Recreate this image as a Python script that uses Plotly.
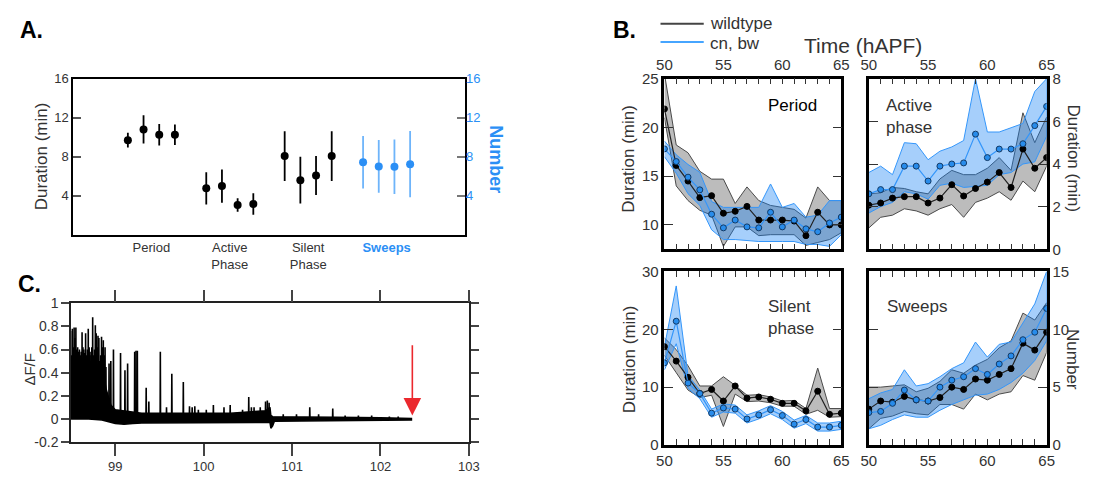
import plotly.graph_objects as go

# The page adds an 8px margin around the figure; lay out in window pixels.
OFF = 8
CW, CH = 1085, 471
def px(x): return (x - OFF) / CW
def py(y): return 1 - (y - OFF) / CH

FONT = "Liberation Sans, Arial, Helvetica, sans-serif"
BLUE = "rgb(43,143,245)"
TXT = "#333333"

# ---------------- Panel A data ----------------
a_groups = ["Period", "Active<br>Phase", "Silent<br>Phase", "Sweeps"]
period_mean = [9.7, 10.8, 10.25, 10.25]
period_err = [0.75, 1.45, 1.1, 1.05]
active_mean = [4.77, 5.0, 3.06, 3.16]
active_err = [1.65, 1.7, 0.7, 1.1]
silent_mean = [8.07, 5.6, 6.09, 8.07]
silent_err = [2.55, 2.4, 2.0, 2.55]
sweeps_mean = [7.44, 7.01, 6.98, 7.24]
sweeps_err = [2.7, 2.7, 2.8, 3.4]

# ---------------- Panel B data ----------------
hours = list(range(50, 66))

per_wt_mean = [21.9, 16.1, 14.5, 12.8, 13.0, 11.2, 11.4, 11.9, 10.5, 10.5, 10.5, 10.4, 8.9, 11.3, 10.0, 10.0]
per_wt_lo = [21.0, 14.0, 12.5, 11.5, 11.0, 7.8, 9.8, 9.8, 8.9, 9.0, 9.0, 9.0, 7.9, 8.2, 8.5, 9.2]
per_wt_hi = [25.5, 18.2, 17.4, 15.5, 14.7, 14.7, 12.2, 13.9, 12.5, 12.0, 11.8, 11.6, 10.7, 13.9, 12.5, 12.5]
per_cb_mean = [17.8, 16.5, 14.9, 13.6, 11.1, 9.7, 10.5, 9.8, 9.7, 11.3, 9.8, 10.5, 9.6, 9.3, 10.2, 10.8]
per_cb_lo = [17.0, 15.3, 13.2, 12.0, 9.5, 8.5, 8.5, 8.4, 8.3, 8.3, 8.3, 8.3, 8.0, 8.0, 7.8, 9.0]
per_cb_hi = [18.6, 17.2, 16.2, 15.4, 12.4, 11.8, 11.8, 11.8, 11.8, 14.2, 11.8, 12.2, 10.8, 11.0, 12.5, 12.5]

act_wt_mean = [2.07, 2.17, 2.4, 2.47, 2.47, 2.17, 2.4, 3.03, 2.5, 2.85, 3.15, 3.6, 2.9, 4.7, 3.8, 4.3]
act_wt_lo = [1.0, 1.5, 1.6, 1.9, 1.8, 1.6, 1.9, 2.1, 1.5, 2.2, 2.4, 2.7, 2.3, 3.2, 2.7, 3.9]
act_wt_hi = [2.6, 2.65, 2.9, 2.85, 2.7, 2.6, 3.3, 3.7, 3.5, 3.5, 3.8, 4.3, 3.7, 6.4, 5.0, 6.2]
act_cb_mean = [2.6, 2.8, 2.8, 3.9, 3.9, 3.2, 3.9, 4.0, 4.05, 5.4, 4.3, 4.7, 4.7, 4.95, 5.8, 6.7]
act_cb_lo = [1.7, 2.0, 2.2, 2.7, 2.6, 2.35, 3.0, 3.1, 2.9, 2.95, 3.0, 3.5, 3.6, 4.0, 4.1, 5.3]
act_cb_hi = [3.6, 3.9, 3.5, 5.0, 4.95, 4.2, 4.6, 4.8, 5.1, 8.0, 5.5, 5.5, 5.7, 5.9, 7.4, 8.0]

sil_wt_mean = [17.0, 14.5, 11.7, 8.9, 9.6, 7.6, 10.2, 8.1, 8.3, 7.9, 7.2, 7.2, 5.9, 9.3, 5.3, 5.5]
sil_wt_lo = [15.5, 12.5, 9.5, 8.2, 8.6, 3.2, 8.8, 7.5, 7.6, 7.3, 6.7, 6.7, 5.3, 6.0, 4.8, 4.9]
sil_wt_hi = [18.5, 16.5, 13.7, 10.2, 10.2, 11.8, 10.3, 8.6, 8.7, 8.3, 7.6, 7.7, 6.3, 13.3, 6.3, 6.3]
sil_cb_mean = [14.2, 21.4, 10.7, 8.9, 5.5, 6.4, 6.2, 4.5, 5.2, 6.1, 5.1, 3.6, 4.4, 3.1, 3.1, 3.4]
sil_cb_lo = [13.0, 17.5, 9.8, 8.0, 4.8, 5.7, 5.5, 3.8, 4.5, 5.4, 4.4, 2.9, 3.7, 2.4, 2.4, 2.7]
sil_cb_hi = [17.0, 27.5, 12.0, 9.5, 6.2, 7.1, 6.9, 5.2, 5.9, 6.8, 5.8, 4.3, 5.1, 3.8, 3.8, 4.1]

swp_wt_mean = [3.1, 3.8, 3.7, 4.2, 3.9, 3.8, 4.1, 5.0, 4.8, 5.7, 5.6, 6.1, 6.6, 8.8, 8.2, 9.75]
swp_wt_lo = [1.4, 2.3, 2.5, 2.9, 2.7, 2.6, 3.5, 3.5, 3.1, 4.4, 3.9, 4.4, 4.6, 6.0, 5.6, 8.0]
swp_wt_hi = [5.0, 5.0, 5.1, 5.2, 4.6, 4.9, 5.5, 6.5, 6.2, 6.9, 7.4, 8.4, 9.0, 11.4, 10.8, 12.3]
swp_cb_mean = [2.8, 2.9, 3.6, 4.75, 3.9, 3.8, 5.0, 5.6, 5.9, 6.6, 6.1, 7.0, 7.7, 9.1, 9.75, 11.8]
swp_cb_lo = [1.4, 1.7, 2.2, 2.6, 2.4, 2.4, 3.0, 3.5, 3.9, 4.3, 4.4, 4.8, 5.4, 6.2, 7.3, 9.0]
swp_cb_hi = [4.0, 4.5, 4.8, 6.5, 5.1, 5.3, 5.9, 6.6, 7.1, 8.9, 7.6, 8.7, 8.9, 10.6, 12.2, 15.0]

# ---------------- Panel C data ----------------
c_spike_t = [98.495, 98.505, 98.515, 98.525, 98.535, 98.545, 98.555, 98.565, 98.575, 98.585,
             98.595, 98.605, 98.615, 98.625, 98.635, 98.645, 98.655, 98.665, 98.675, 98.685,
             98.695, 98.705, 98.715, 98.725, 98.735, 98.745, 98.755, 98.765, 98.775, 98.785,
             98.795, 98.805, 98.815, 98.825, 98.835, 98.845, 98.855, 98.865, 98.875, 98.885,
             98.895, 98.91, 98.93, 98.95, 98.98, 99.06, 99.11, 99.14, 99.22, 99.235,
             99.25, 99.35, 99.38, 99.51, 99.58, 99.64, 99.77, 99.84, 99.87, 99.90,
             99.94, 100.03, 100.11, 100.23, 100.30, 100.44, 100.51, 100.54, 100.57, 100.64,
             100.70, 100.72, 100.74, 100.90, 101.05, 101.20, 101.30, 101.46, 101.60, 101.75,
             101.90, 102.10, 102.20]
c_spike_h = [0.76, 0.55, 0.78, 0.62, 0.79, 0.70, 0.79, 0.60, 0.62, 0.58,
             0.60, 0.55, 0.58, 0.75, 0.62, 0.60, 0.57, 0.74, 0.55, 0.60,
             0.78, 0.62, 0.58, 0.55, 0.62, 0.88, 0.55, 0.60, 0.81, 0.74,
             0.62, 0.72, 0.70, 0.50, 0.55, 0.71, 0.62, 0.68, 0.55, 0.62,
             0.45, 0.20, 0.48, 0.50, 0.60, 0.57, 0.42, 0.48, 0.58, 0.59,
             0.59, 0.27, 0.15, 0.58, 0.10, 0.39, 0.32, 0.11, 0.10, 0.11,
             0.08, 0.08, 0.12, 0.10, 0.12, 0.08, 0.19, 0.10, 0.10, 0.10,
             0.15, 0.16, 0.14, 0.04, 0.04, 0.10, 0.04, 0.09, 0.03, 0.03,
             0.03, 0.02, 0.02]
c_env_t = [98.49, 98.55, 98.70, 98.85, 98.90, 98.95, 99.00, 99.10, 99.20, 99.30, 99.50, 99.80,
           100.00, 100.30, 100.50, 100.70, 100.75, 100.76, 100.78, 100.80, 101.00, 101.50, 102.00, 102.35]
c_env_hi = [0.45, 0.55, 0.50, 0.45, 0.25, 0.12, 0.08, 0.07, 0.06, 0.05, 0.05, 0.05,
            0.05, 0.05, 0.06, 0.07, 0.10, 0.03, 0.02, 0.02, 0.02, 0.015, 0.01, 0.005]
c_env_lo = [0.0, 0.0, 0.0, -0.01, -0.02, -0.03, -0.04, -0.045, -0.04, -0.035, -0.03, -0.03,
            -0.03, -0.035, -0.035, -0.03, -0.03, -0.08, -0.06, -0.02, -0.02, -0.015, -0.012, -0.01]
c_arrow_t = 102.36
c_arrow_from = 0.65
c_arrow_to = 0.03

fig = go.Figure()

# ---------------- Panel A traces ----------------
offsets = [-0.3, -0.1, 0.1, 0.3]
a_sets = [(period_mean, period_err, "black", "y"),
          (active_mean, active_err, "black", "y"),
          (silent_mean, silent_err, "black", "y"),
          (sweeps_mean, sweeps_err, BLUE, "y2")]
for gi, (m, e, col, ya) in enumerate(a_sets):
    xs = [gi + 1 + o for o in offsets]
    ecol = col if col == "black" else "rgb(110,180,250)"
    fig.add_trace(go.Scatter(
        x=xs, y=m, mode="markers", xaxis="x", yaxis=ya, showlegend=False,
        marker=dict(color=col, size=8),
        error_y=dict(type="data", array=e, color=ecol, thickness=1.8, width=0)))

# ---------------- Panel C traces ----------------
fig.add_trace(go.Scatter(x=c_env_t + c_env_t[::-1], y=c_env_hi + c_env_lo[::-1],
                         mode="lines", fill="toself", fillcolor="black",
                         line=dict(color="black", width=1.5), xaxis="x3", yaxis="y3",
                         showlegend=False, hoverinfo="skip"))
half = 0.0025
st, sv = [], []
for t, h in zip(c_spike_t, c_spike_h):
    st += [t - half, t, t + half, None]
    sv += [0.0, h, 0.0, None]
fig.add_trace(go.Scatter(x=st, y=sv, mode="lines", xaxis="x3", yaxis="y3",
                         line=dict(color="black", width=1.6), showlegend=False))

# ---------------- Panel B traces ----------------
GREY_FILL = "rgba(70,70,70,0.36)"
GREY_LINE = "#4a4a4a"
BLUE_FILL = "rgba(20,130,245,0.38)"
BLUE_LINE = "rgb(52,150,250)"

def band(xa, ya, lo, hi, fill, line):
    fig.add_trace(go.Scatter(
        x=hours + hours[::-1], y=hi + lo[::-1], mode="lines", fill="toself",
        fillcolor=fill, line=dict(color=line, width=1), xaxis=xa, yaxis=ya,
        showlegend=False, hoverinfo="skip"))

def mean(xa, ya, m, line, mfill, mline):
    fig.add_trace(go.Scatter(
        x=hours, y=m, mode="lines+markers", xaxis=xa, yaxis=ya, showlegend=False,
        line=dict(color=line, width=1.2),
        marker=dict(size=6, color=mfill, line=dict(color=mline, width=1))))

panels = [
    ("x4", "y4", per_wt_lo, per_wt_hi, per_wt_mean, per_cb_lo, per_cb_hi, per_cb_mean),
    ("x5", "y5", act_wt_lo, act_wt_hi, act_wt_mean, act_cb_lo, act_cb_hi, act_cb_mean),
    ("x6", "y6", sil_wt_lo, sil_wt_hi, sil_wt_mean, sil_cb_lo, sil_cb_hi, sil_cb_mean),
    ("x7", "y7", swp_wt_lo, swp_wt_hi, swp_wt_mean, swp_cb_lo, swp_cb_hi, swp_cb_mean),
]
for xa, ya, wlo, whi, wm, clo, chi, cm in panels:
    band(xa, ya, wlo, whi, GREY_FILL, GREY_LINE)
    band(xa, ya, clo, chi, BLUE_FILL, BLUE_LINE)
    mean(xa, ya, wm, "#222222", "black", "black")
    mean(xa, ya, cm, BLUE_LINE, "rgb(40,140,235)", "#123a66")

# ---------------- Layout ----------------
tickf = dict(family=FONT, size=13, color=TXT)
tickfB = dict(family=FONT, size=15, color=TXT)

sweeps_lbl = "<b><span style='color:%s'>Sweeps</span></b>" % BLUE
layout = dict(
    width=CW, height=CH, margin=dict(l=0, r=0, t=0, b=0),
    paper_bgcolor="white", plot_bgcolor="white",
    font=dict(family=FONT, color=TXT),
    showlegend=False,
    xaxis=dict(domain=[px(66), px(465)], range=[0, 5], anchor="y",
               tickvals=[1, 2, 3, 4], ticktext=a_groups[:3] + [sweeps_lbl],
               ticks="", showline=True, linecolor="black", linewidth=1.5, mirror=True,
               showgrid=False, zeroline=False, tickfont=tickf),
    xaxis2=dict(overlaying="x", side="top", range=[0, 5], anchor="y",
                tickvals=[1, 2, 3, 4], ticks="inside", ticklen=9, tickwidth=1.5,
                tickcolor="#555", showticklabels=False, showline=False,
                showgrid=False, zeroline=False),
    yaxis=dict(domain=[py(234), py(72)], range=[0, 16], anchor="x",
               tickvals=[4, 8, 12, 16], ticks="inside", ticklen=8, tickwidth=1.5,
               tickcolor="#555", showline=True, linecolor="black", linewidth=1.5,
               mirror=True, showgrid=False, zeroline=False, tickfont=tickf),
    yaxis2=dict(overlaying="y", side="right", anchor="x", range=[0, 16],
                tickvals=[4, 8, 12, 16], ticks="inside", ticklen=8, tickwidth=1.5,
                tickcolor="#777", showline=False, showgrid=False, zeroline=False,
                tickfont=dict(family=FONT, size=13, color=BLUE)),
    xaxis3=dict(domain=[px(64), px(469)], range=[98.5, 103], anchor="y3",
                tickvals=[99, 100, 101, 102, 103], ticks="outside", ticklen=12,
                tickwidth=1.5, tickcolor="#444", showline=True, linecolor="#222",
                linewidth=1.5, mirror="ticks", showgrid=False, zeroline=False,
                tickfont=tickf),
    yaxis3=dict(domain=[py(449), py(305)], range=[-0.2, 1], anchor="x3",
                tickvals=[-0.2, 0, 0.2, 0.4, 0.6, 0.8, 1],
                ticktext=["-0.2", "0", "0.2", "0.4", "0.6", "0.8", "1"],
                ticks="outside", ticklen=8, tickwidth=1.5, tickcolor="#444",
                showline=True, linecolor="#222", linewidth=1.5, mirror="ticks",
                showgrid=False, zeroline=False, tickfont=dict(family=FONT, size=14, color=TXT)),
)

bx = {"x4": [668, 848], "x5": [876, 1057], "x6": [668, 848], "x7": [876, 1057]}
by = {"y4": [249, 72], "y5": [249, 72], "y6": [452, 272], "y7": [452, 272]}
yr = {"y4": [7.5, 25], "y5": [0, 8], "y6": [0, 30], "y7": [0, 15]}
yt = {"y4": [10, 15, 20, 25], "y5": [0, 2, 4, 6, 8], "y6": [0, 10, 20, 30], "y7": [0, 5, 10, 15]}
for i, (xa, ya) in enumerate([("x4", "y4"), ("x5", "y5"), ("x6", "y6"), ("x7", "y7")]):
    top = i < 2
    right = i in (1, 3)
    layout["xaxis" + xa[1:]] = dict(
        domain=[px(bx[xa][0]), px(bx[xa][1])], range=[50, 65], anchor=ya,
        side="top" if top else "bottom", tickvals=[50, 55, 60, 65],
        ticks="inside", ticklen=6, tickwidth=1.2, tickcolor="#333",
        minor=dict(dtick=1, ticks="inside", ticklen=6, tickwidth=1.2, tickcolor="#333"),
        showline=True, linecolor="black", linewidth=2.5, mirror="ticks",
        showgrid=False, zeroline=False, tickfont=tickfB)
    layout["yaxis" + ya[1:]] = dict(
        domain=[py(by[ya][0]), py(by[ya][1])], range=yr[ya], anchor=xa,
        side="right" if right else "left", tickvals=yt[ya],
        ticks="inside", ticklen=9, tickwidth=1.2, tickcolor="#333",
        showline=True, linecolor="black", linewidth=2.5, mirror="ticks",
        showgrid=False, zeroline=False, tickfont=tickfB)

fig.update_layout(**layout)

def ann(text, x, y, size, angle=0, color=TXT, xanchor="center", bold=False, align="center"):
    fig.add_annotation(text=("<b>%s</b>" % text) if bold else text,
                       x=px(x), y=py(y), xref="paper", yref="paper", showarrow=False,
                       textangle=angle, xanchor=xanchor, yanchor="middle", align=align,
                       font=dict(family=FONT, size=size, color=color))

ann("A.", 10, 22, 23, color="black", xanchor="left", bold=True)
ann("B.", 614, 22, 23, color="black", xanchor="left", bold=True)
ann("C.", 8, 285, 23, color="black", xanchor="left", bold=True)

ann("Duration (min)", 34, 153, 17, angle=-90)
ann("Number", 497, 156, 18, angle=90, color=BLUE, bold=True)

ann("ΔF/F", 22, 373, 15, angle=-90)
fig.add_annotation(x=c_arrow_t, y=c_arrow_to, ax=c_arrow_t, ay=c_arrow_from,
                   xref="x3", yref="y3", axref="x3", ayref="y3", text="",
                   showarrow=True, arrowhead=2, arrowsize=2.2, arrowwidth=1.6,
                   arrowcolor="rgb(235,40,45)")

ann("Time (hAPF)", 870, 38, 21)
ann("wildtype", 712, 15, 17, xanchor="left")
ann("cn, bw", 712, 35, 17, xanchor="left")
fig.add_shape(type="line", xref="paper", yref="paper", x0=px(664), x1=px(708),
              y0=py(15), y1=py(15), line=dict(color="#444", width=2))
fig.add_shape(type="line", xref="paper", yref="paper", x0=px(664), x1=px(708),
              y0=py(34), y1=py(34), line=dict(color="rgb(70,165,255)", width=2))
ann("Duration (min)", 632, 155, 17, angle=-90)
ann("Duration (min)", 632, 363, 17, angle=-90)
ann("Duration (min)", 1084, 155, 17, angle=90)
ann("Number", 1084, 363, 17, angle=90)
ann("Period", 798, 100, 17, color="black")
ann("Active<br>phase", 891, 111, 17, xanchor="left", align="left")
ann("Silent<br>phase", 771, 320, 17, xanchor="left", align="left")
ann("Sweeps", 892, 308, 17, xanchor="left")

fig.write_html("out.html", config={"displayModeBar": False})
